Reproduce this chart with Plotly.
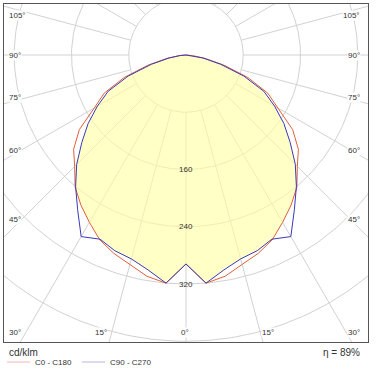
import numpy as np
import plotly.graph_objects as go

# ---------------- data (cd/klm) ----------------
gamma_deg = [0, 5, 10, 15, 20, 25, 30, 35, 40, 45, 50, 55, 60, 65, 70, 75, 80, 85, 90]
c0_c180 = [292, 320, 314, 303, 295, 285, 270, 256, 241, 220, 205, 182, 148, 126, 92, 55, 27, 9, 0]
c90_c270 = [292, 320, 305, 295, 291, 284, 293, 264, 240, 216, 190, 167, 143, 120, 86, 50, 24, 8, 0]
ring_values = [80, 160, 240, 320, 400, 480, 560]
ring_label_values = [160, 240, 320]
spoke_step = 15
angle_labels_left = ["105°", "90°", "75°", "60°", "45°", "30°"]
angle_labels_bottom = ["15°", "0°", "15°"]
angle_labels_right = ["30°", "45°", "60°", "75°", "90°", "105°"]
unit_text = "cd/klm"
eta_text = "\u03b7 = 89%"
series_names = ["C0 - C180", "C90 - C270"]

# ---------------- geometry ----------------
W, H = 376, 371
ML, MR, MT, MB = 4, 8, 4, 29
CX, CY = 186, 55          # pixel centre of the diagram
K = 229.0 / 320.0         # pixels per cd/klm
PW, PH = W - ML - MR, H - MT - MB
x_range = [(ML - CX) / K, (ML + PW - CX) / K]
y_range = [(CY - (MT + PH)) / K, (CY - MT) / K]

def px(xp):
    return (xp - ML) / PW

def py(yp):
    return (MT + PH - yp) / PH

def polar_xy(angle_deg, r):
    a = np.radians(np.asarray(angle_deg, dtype=float))
    r = np.asarray(r, dtype=float)
    return r * np.sin(a), -r * np.cos(a)

def full_curve(vals):
    g = np.array(gamma_deg, dtype=float)
    v = np.array(vals, dtype=float)
    ang = np.concatenate([-g[::-1], g[1:]])
    rr = np.concatenate([v[::-1], v[1:]])
    return polar_xy(ang, rr)

GRID = "#d2d2d2"
TXT = "#333333"
RED = "#e0603a"
BLUE = "#3a3ab8"
FONT = "Liberation Sans"

fig = go.Figure()

# grid rings
t = np.linspace(0, 360, 361)
for R in ring_values:
    gx, gy = polar_xy(t, np.full_like(t, R))
    fig.add_trace(go.Scatter(x=gx, y=gy, mode="lines", line=dict(color=GRID, width=1),
                             hoverinfo="skip", showlegend=False))
# spokes
for a in range(0, 360, spoke_step):
    sx, sy = polar_xy([a, a], [ring_values[0], 800])
    fig.add_trace(go.Scatter(x=sx, y=sy, mode="lines", line=dict(color=GRID, width=1),
                             hoverinfo="skip", showlegend=False))

# fill (inner envelope)
env = np.minimum(np.array(c0_c180), np.array(c90_c270))
fx, fy = full_curve(env)
fig.add_trace(go.Scatter(x=fx, y=fy, mode="lines", fill="toself",
                         fillcolor="rgba(255,255,160,0.6)", line=dict(width=0),
                         hoverinfo="skip", showlegend=False))

# curves
for vals, col, name in [(c0_c180, RED, series_names[0]), (c90_c270, BLUE, series_names[1])]:
    cx, cy = full_curve(vals)
    fig.add_trace(go.Scatter(x=cx, y=cy, mode="lines", name=name,
                             line=dict(color=col, width=1), showlegend=False))

ann = []
# ring labels
for v in ring_label_values:
    ann.append(dict(x=0, y=-v, xref="x", yref="y", text=str(v), showarrow=False,
                    font=dict(size=8, color=TXT, family=FONT), xanchor="center", yanchor="middle"))

left_y = [15, 55, 98, 150, 220, 332]
for txt, yy in zip(angle_labels_left, left_y):
    ann.append(dict(x=px(8), y=py(yy), xref="paper", yref="paper", text=txt, showarrow=False,
                    bgcolor="white", borderpad=0,
                    font=dict(size=8, color=TXT, family=FONT), xanchor="left", yanchor="middle"))
right_y = [332, 220, 150, 98, 55, 15]
for txt, yy in zip(angle_labels_right, right_y):
    ann.append(dict(x=px(361), y=py(yy), xref="paper", yref="paper", text=txt, showarrow=False,
                    bgcolor="white", borderpad=0,
                    font=dict(size=8, color=TXT, family=FONT), xanchor="right", yanchor="middle"))
bottom_x = [101, 185, 268]
for txt, xx in zip(angle_labels_bottom, bottom_x):
    ann.append(dict(x=px(xx), y=py(332), xref="paper", yref="paper", text=txt, showarrow=False,
                    bgcolor="white", borderpad=0,
                    font=dict(size=8, color=TXT, family=FONT), xanchor="center", yanchor="middle"))

ann.append(dict(x=px(7), y=py(352), xref="paper", yref="paper", text=unit_text, showarrow=False,
                font=dict(size=10, color=TXT, family=FONT), xanchor="left", yanchor="middle"))
ann.append(dict(x=px(362), y=py(352), xref="paper", yref="paper", text=eta_text, showarrow=False,
                font=dict(size=10, color=TXT, family=FONT), xanchor="right", yanchor="middle"))
ann.append(dict(x=px(33), y=py(362), xref="paper", yref="paper", text=series_names[0], showarrow=False,
                font=dict(size=8, color=TXT, family=FONT), xanchor="left", yanchor="middle"))
ann.append(dict(x=px(108), y=py(362), xref="paper", yref="paper", text=series_names[1], showarrow=False,
                font=dict(size=8, color=TXT, family=FONT), xanchor="left", yanchor="middle"))

shapes = [
    dict(type="line", xref="paper", yref="paper", x0=px(7), x1=px(30), y0=py(362), y1=py(362),
         line=dict(color="#f0b4b0", width=1)),
    dict(type="line", xref="paper", yref="paper", x0=px(82), x1=px(105), y0=py(362), y1=py(362),
         line=dict(color="#b4b4e0", width=1)),
]

fig.update_layout(
    width=W, height=H,
    margin=dict(l=ML, r=MR, t=MT, b=MB),
    paper_bgcolor="white", plot_bgcolor="white",
    showlegend=False,
    annotations=ann, shapes=shapes,
    xaxis=dict(range=x_range, showgrid=False, zeroline=False, showticklabels=False, ticks="",
               showline=True, mirror=True, linecolor="#555555", linewidth=1, fixedrange=True),
    yaxis=dict(range=y_range, showgrid=False, zeroline=False, showticklabels=False, ticks="",
               showline=True, mirror=True, linecolor="#555555", linewidth=1, fixedrange=True),
)

fig.write_html("out.html", config={"displayModeBar": False},
               post_script="document.body.style.margin='0';document.body.style.overflow='hidden';")
